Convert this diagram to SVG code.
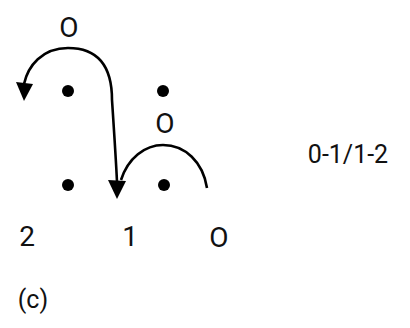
<svg xmlns="http://www.w3.org/2000/svg" width="410" height="328" viewBox="0 0 410 328">
<style>
text{font-family:Roboto,"Liberation Sans",sans-serif;fill:#111;text-anchor:middle}
.lbl{font-size:28px}
.dot{fill:#000}
.arc{fill:none;stroke:#000;stroke-width:2.6}
</style>
<rect width="410" height="328" fill="#fff"/>
<g id="dots">
<circle id="d1" class="dot" cx="68" cy="91" r="6"/>
<circle id="d2" class="dot" cx="163" cy="91" r="6"/>
<circle id="d3" class="dot" cx="68" cy="185" r="6"/>
<circle id="d4" class="dot" cx="164" cy="185" r="6"/>
</g>
<g id="connectors">
<path class="arc" d="M112,100 C112,60 92,48 68,48 C42,48 28,66 24,84"/>
<path d="M16,82 L33,84 L24,101 Z" fill="#000"/>
<path class="arc" d="M112,100 C114,130 116,160 117,182"/>
<path d="M108,180 L126,181 L117,199 Z" fill="#000"/>
<path class="arc" d="M121,180 C128,158 145,145 163,145 C185,145 203,162 207,188"/>
</g>
<g id="labels">
<text class="lbl" x="69" y="37">O</text>
<text class="lbl" x="165" y="133">O</text>
<text class="lbl" x="27" y="246">2</text>
<text class="lbl" x="130" y="246">1</text>
<text class="lbl" x="219" y="247">O</text>
<text class="lbl" x="348" y="163" style="font-size:25px">0-1/1-2</text>
<text class="lbl" x="33" y="308" style="font-size:25px">(c)</text>
</g>
</svg>
